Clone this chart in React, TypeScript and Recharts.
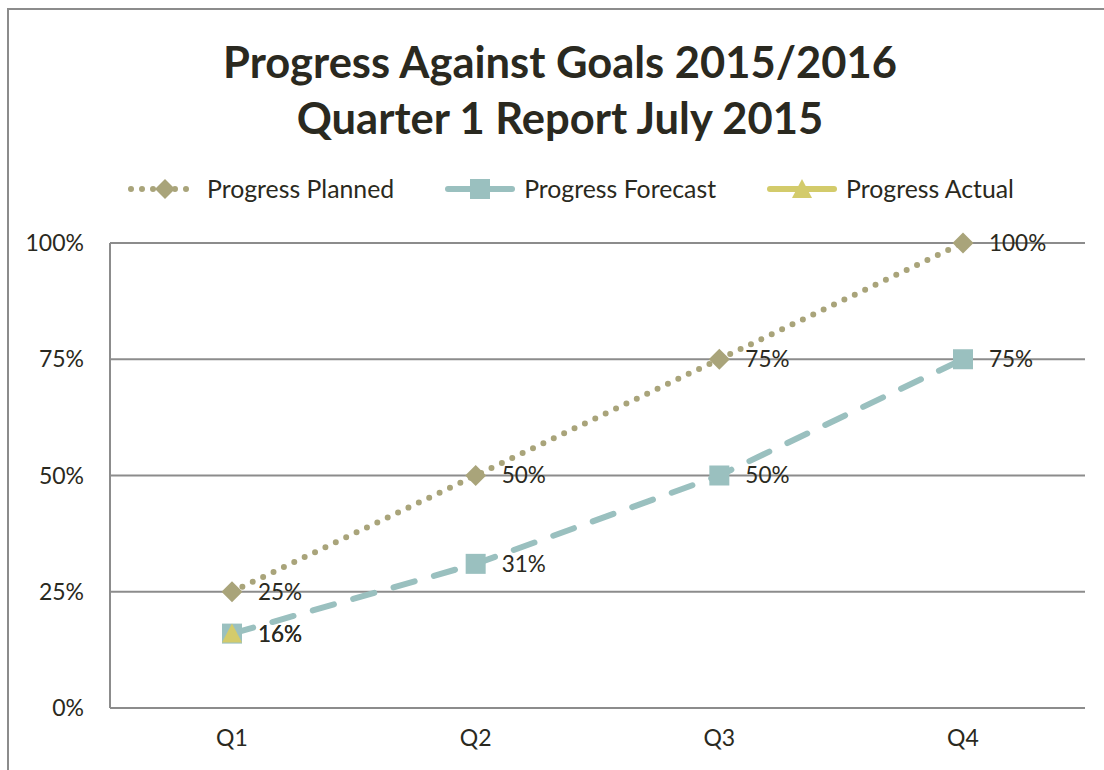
import {
  LineChart,
  Line,
  XAxis,
  YAxis,
  CartesianGrid,
  LabelList,
} from "recharts";

const quarters = ["Q1", "Q2", "Q3", "Q4"];
const planned = [0.25, 0.5, 0.75, 1.0];
const forecast = [0.16, 0.31, 0.5, 0.75];
const actual: (number | null)[] = [0.16, null, null, null];
const yTicks = [0, 0.25, 0.5, 0.75, 1];

const PLANNED = "#A9A47A";
const FORECAST = "#9AC0BF";
const ACTUAL = "#D3CB6B";
const TEXT = "#2A2920";
const GRID = "#8C8C8C";
const FONT = "Lato, 'Open Sans', sans-serif";

const data = quarters.map((q, i) => ({
  q,
  planned: planned[i],
  forecast: forecast[i],
  actual: actual[i],
}));

const pct = (v: any) => (v == null ? "" : `${Math.round(Number(v) * 100)}%`);

const Diamond = (p: any) => {
  const { cx, cy } = p;
  if (cx == null || cy == null || p.value == null) return null;
  const r = 10.5;
  return (
    <path
      d={`M${cx},${cy - r}L${cx + r},${cy}L${cx},${cy + r}L${cx - r},${cy}Z`}
      fill={PLANNED}
    />
  );
};

const Square = (p: any) => {
  const { cx, cy } = p;
  if (cx == null || cy == null || p.value == null) return null;
  return <rect x={cx - 10} y={cy - 10} width={20} height={20} fill={FORECAST} />;
};

const Triangle = (p: any) => {
  const { cx, cy } = p;
  if (cx == null || cy == null || p.value == null) return null;
  return (
    <path
      d={`M${cx},${cy - 10}L${cx + 10},${cy + 9}L${cx - 10},${cy + 9}Z`}
      fill={ACTUAL}
    />
  );
};

function LegendIcon({ kind }: { kind: string }) {
  return (
    <svg width={72} height={24} style={{ display: "block" }}>
      {kind === "planned" && (
        <>
          <line
            x1={4}
            y1={12}
            x2={70}
            y2={12}
            stroke={PLANNED}
            strokeWidth={6}
            strokeDasharray="0 11"
            strokeLinecap="round"
          />
          <path d="M38,2L48,12L38,22L28,12Z" fill={PLANNED} />
        </>
      )}
      {kind === "forecast" && (
        <>
          <line
            x1={4}
            y1={12}
            x2={68}
            y2={12}
            stroke={FORECAST}
            strokeWidth={6}
            strokeLinecap="round"
          />
          <rect x={26} y={2} width={20} height={20} fill={FORECAST} />
        </>
      )}
      {kind === "actual" && (
        <>
          <line
            x1={4}
            y1={12}
            x2={68}
            y2={12}
            stroke={ACTUAL}
            strokeWidth={6}
            strokeLinecap="round"
          />
          <path d="M36,2L46,21L26,21Z" fill={ACTUAL} />
        </>
      )}
    </svg>
  );
}

const legendItems = [
  { kind: "planned", label: "Progress Planned" },
  { kind: "forecast", label: "Progress Forecast" },
  { kind: "actual", label: "Progress Actual" },
];

export default function App() {
  return (
    <div
      style={{
        position: "absolute",
        left: 0,
        top: 0,
        width: 1104,
        height: 770,
        background: "#fff",
        fontFamily: FONT,
        overflow: "hidden",
      }}
    >
      {/* chart frame, only top and left edges visible */}
      <div
        style={{
          position: "absolute",
          left: 7,
          top: 8,
          width: 1120,
          height: 800,
          borderTop: `2px solid ${GRID}`,
          borderLeft: `2px solid ${GRID}`,
        }}
      />
      <div
        style={{
          position: "absolute",
          left: 0,
          top: 33,
          width: 1120,
          textAlign: "center",
          fontWeight: 700,
          fontSize: 43.5,
          lineHeight: "56px",
          color: TEXT,
        }}
      >
        Progress Against Goals 2015/2016
        <br />
        Quarter 1 Report July 2015
      </div>
      <div
        style={{
          position: "absolute",
          left: 127,
          top: 174,
          display: "flex",
          alignItems: "center",
          fontSize: 24.8,
          color: TEXT,
        }}
      >
        {legendItems.map((it) => (
          <div
            key={it.kind}
            style={{ display: "flex", alignItems: "center", marginRight: 50 }}
          >
            <LegendIcon kind={it.kind} />
            <span style={{ marginLeft: 8 }}>{it.label}</span>
          </div>
        ))}
      </div>
      <div style={{ position: "absolute", left: 0, top: 0 }}>
        <LineChart
          width={1104}
          height={770}
          data={data}
          margin={{ top: 243, right: 19, bottom: 22, left: 10 }}
        >
          <CartesianGrid
            vertical={false}
            stroke={GRID}
            strokeWidth={2}
          />
          <XAxis
            dataKey="q"
            height={40}
            padding={{ left: 122, right: 122 }}
            tickLine={false}
            tickSize={0}
            tickMargin={22}
            axisLine={{ stroke: GRID, strokeWidth: 2 }}
            tick={{ fontSize: 23, fill: TEXT, fontFamily: FONT }}
          />
          <YAxis
            width={100}
            domain={[0, 1]}
            ticks={yTicks}
            tickFormatter={pct}
            tickLine={false}
            tickSize={0}
            tickMargin={26}
            axisLine={{ stroke: GRID, strokeWidth: 2 }}
            tick={{ fontSize: 23, fill: TEXT, fontFamily: FONT }}
          />
          <Line
            dataKey="planned"
            stroke={PLANNED}
            strokeWidth={6}
            strokeDasharray="0 11.5"
            strokeLinecap="round"
            dot={<Diamond />}
            activeDot={false}
            isAnimationActive={false}
          >
            <LabelList
              dataKey="planned"
              position="right"
              offset={26}
              formatter={pct}
              style={{ fontSize: 22.5, fill: TEXT, fontFamily: FONT }}
            />
          </Line>
          <Line
            dataKey="forecast"
            stroke={FORECAST}
            strokeWidth={6}
            strokeDasharray="22 20"
            strokeLinecap="round"
            dot={<Square />}
            activeDot={false}
            isAnimationActive={false}
          >
            <LabelList
              dataKey="forecast"
              position="right"
              offset={26}
              formatter={pct}
              style={{ fontSize: 22.5, fill: TEXT, fontFamily: FONT }}
            />
          </Line>
          <Line
            dataKey="actual"
            stroke={ACTUAL}
            strokeWidth={6}
            dot={<Triangle />}
            activeDot={false}
            connectNulls={false}
            isAnimationActive={false}
          >
            <LabelList
              dataKey="actual"
              position="right"
              offset={26}
              formatter={pct}
              style={{ fontSize: 22.5, fill: TEXT, fontFamily: FONT }}
            />
          </Line>
        </LineChart>
      </div>
    </div>
  );
}
